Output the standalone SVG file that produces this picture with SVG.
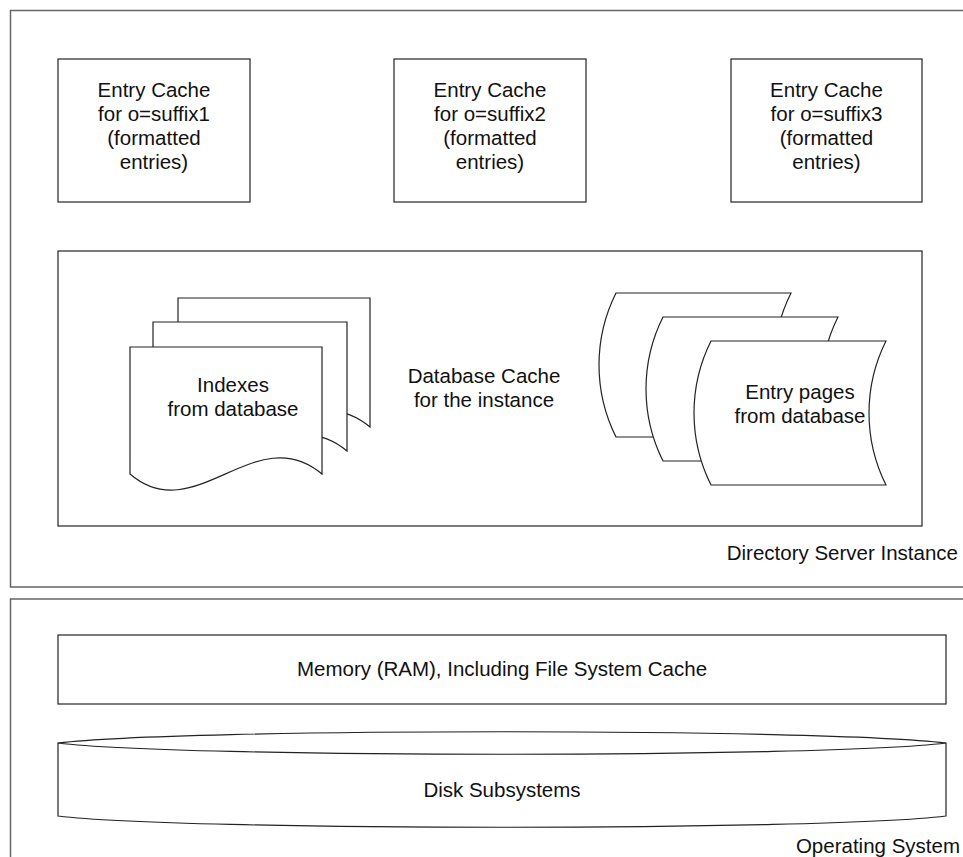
<svg xmlns="http://www.w3.org/2000/svg" width="963" height="857" viewBox="0 0 963 857">
<style>
.frame{fill:none;stroke:#666;stroke-width:1.5}
.box{fill:#fff;stroke:#222;stroke-width:1.2}
.t{font-family:"Liberation Sans",Arial,sans-serif;font-size:20.5px;fill:#111;text-anchor:middle}
.tr{font-family:"Liberation Sans",Arial,sans-serif;font-size:20.5px;fill:#111;text-anchor:end}
</style>
<rect width="963" height="857" fill="#fff"/>
<g id="directory-server-instance">
<path class="frame" d="M964,10.5 H10.5 V587 H964"/>
<text class="tr" x="958" y="560">Directory Server Instance</text>
</g>
<g id="operating-system">
<path class="frame" d="M964,599 H10.5 V858"/>
<text class="tr" x="960" y="853">Operating System</text>
</g>
<g id="entry-cache-1">
<rect class="box" x="58" y="59" width="192" height="143"/>
<text class="t" x="154" y="97">Entry Cache</text>
<text class="t" x="154" y="121">for o=suffix1</text>
<text class="t" x="154" y="145">(formatted</text>
<text class="t" x="154" y="169">entries)</text>
</g>
<g id="entry-cache-2">
<rect class="box" x="394" y="59" width="192" height="143"/>
<text class="t" x="490" y="97">Entry Cache</text>
<text class="t" x="490" y="121">for o=suffix2</text>
<text class="t" x="490" y="145">(formatted</text>
<text class="t" x="490" y="169">entries)</text>
</g>
<g id="entry-cache-3">
<rect class="box" x="731" y="59" width="191" height="143"/>
<text class="t" x="826.5" y="97">Entry Cache</text>
<text class="t" x="826.5" y="121">for o=suffix3</text>
<text class="t" x="826.5" y="145">(formatted</text>
<text class="t" x="826.5" y="169">entries)</text>
</g>
<g id="database-cache">
<rect class="box" x="58" y="251" width="864" height="275"/>
<text class="t" x="484" y="383">Database Cache</text>
<text class="t" x="484" y="407">for the instance</text>
</g>
<g id="indexes">
<path class="box" d="M178,298 H370 V427 C303,371 243,483 178,427 Z"/>
<path class="box" d="M153,322 H347 V451 C280,395 220,507 153,451 Z"/>
<path class="box" d="M130,347 H322 V474 C255,418 195,530 130,474 Z"/>
<text class="t" x="233" y="392">Indexes</text>
<text class="t" x="233" y="416">from database</text>
</g>
<g id="entry-pages">
<path class="box" d="M616,293 H791 A161,161 0 0 0 791,437 H616 A161,161 0 0 1 616,293 Z"/>
<path class="box" d="M663,317 H838 A161,161 0 0 0 838,461 H663 A161,161 0 0 1 663,317 Z"/>
<path class="box" d="M711,341 H886 A161,161 0 0 0 886,485 H711 A161,161 0 0 1 711,341 Z"/>
<text class="t" x="800" y="399">Entry pages</text>
<text class="t" x="800" y="423">from database</text>
</g>
<g id="memory">
<rect class="box" x="58" y="635" width="888" height="69"/>
<text class="t" x="502" y="676">Memory (RAM), Including File System Cache</text>
</g>
<g id="disk-subsystems">
<path class="box" d="M58,743 C180,728 824,728 946,743 V816 C824,831 180,831 58,816 Z"/>
<path class="box" fill="none" d="M58,743 C180,758 824,758 946,743"/>
<text class="t" x="502" y="797">Disk Subsystems</text>
</g>
<g id="connectors"/>
</svg>
